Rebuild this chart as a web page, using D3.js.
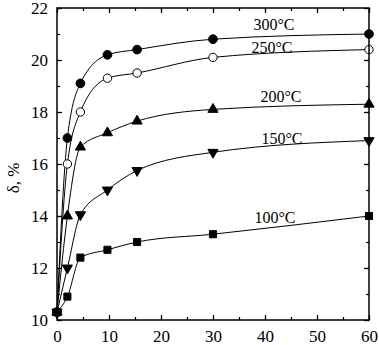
<!DOCTYPE html>
<html>
<head>
<meta charset="utf-8">
<script src="https://cdn.jsdelivr.net/npm/d3@7"></script>
<style>
  body { margin: 0; background: #fff; }
  text { font-family: "Liberation Serif", "DejaVu Serif", serif; }
</style>
</head>
<body>
<svg width="379" height="345"></svg>
<script>
// time, min
var times = [0, 2, 4.5, 9.7, 15.4, 30, 60];

// delta, % for each temperature
var t100 = [10.3, 10.9, 12.4, 12.7, 13.0, 13.3, 14.0];
var t150 = [10.3, 12.0, 14.05, 15.0, 15.75, 16.45, 16.9];
var t200 = [10.3, 14.0, 16.65, 17.2, 17.65, 18.1, 18.3];
var t250 = [10.3, 16.0, 18.0, 19.3, 19.5, 20.1, 20.4];
var t300 = [10.3, 17.0, 19.1, 20.2, 20.4, 20.8, 21.0];

var labels = ["100°C", "150°C", "200°C", "250°C", "300°C"];
var xTicks = [0, 10, 20, 30, 40, 50, 60];
var yTicks = [10, 12, 14, 16, 18, 20, 22];

var svg = d3.select("svg");

var x = d3.scaleLinear().domain([0, 60]).range([57, 369]);
var y = d3.scaleLinear().domain([10, 22]).range([320, 8]);

var series = [
  {vals: t100, sym: d3.symbolSquare, size: 50, fill: "#000", label: labels[0], lx: 275, ly: 223},
  {vals: t150, sym: d3.symbolTriangle, size: 45, fill: "#000", label: labels[1], lx: 282, ly: 144, down: true},
  {vals: t200, sym: d3.symbolTriangle, size: 45, fill: "#000", label: labels[2], lx: 281, ly: 102},
  {vals: t250, sym: d3.symbolCircle, size: 55, fill: "#fff", label: labels[3], lx: 272, ly: 53},
  {vals: t300, sym: d3.symbolCircle, size: 60, fill: "#000", label: labels[4], lx: 274, ly: 30}
];

// curves
var line = d3.line()
  .x(function(d, i){ return x(times[i]) })
  .y(function(d){ return y(d) })
  .curve(d3.curveMonotoneX);

svg.append("g")
  .selectAll("path")
  .data(series)
  .enter()
  .append("path")
    .attr("d", function(d){ return line(d.vals) })
    .attr("fill", "none")
    .attr("stroke", "#000")
    .attr("stroke-width", 1);

// markers
series.forEach(function(s){
  svg.append("g")
    .selectAll("path")
    .data(s.vals)
    .enter()
    .append("path")
      .attr("d", d3.symbol().type(s.sym).size(s.size))
      .attr("transform", function(d, i){
        return "translate(" + x(times[i]) + "," + y(d) + ")" + (s.down ? " rotate(180)" : "");
      })
      .attr("fill", s.fill)
      .attr("stroke", "#000")
      .attr("stroke-width", 1);

  svg.append("text")
    .attr("x", s.lx)
    .attr("y", s.ly)
    .attr("text-anchor", "middle")
    .attr("font-size", 16)
    .text(s.label);
});

// axes with inward ticks on all sides
function minor(ax, n) { return ax.ticks(n).tickSize(-3).tickFormat(""); }

svg.append("g").attr("transform", "translate(0,320)")
  .call(minor(d3.axisBottom(x), 12));
svg.append("g").attr("transform", "translate(0,320)")
  .call(d3.axisBottom(x).tickValues(xTicks).tickSize(-5).tickPadding(10));
svg.append("g").attr("transform", "translate(0,8)")
  .call(minor(d3.axisTop(x), 12));
svg.append("g").attr("transform", "translate(0,8)")
  .call(d3.axisTop(x).tickValues(xTicks).tickSize(-5).tickFormat(""));

svg.append("g").attr("transform", "translate(57,0)")
  .call(minor(d3.axisLeft(y), 12));
svg.append("g").attr("transform", "translate(57,0)")
  .call(d3.axisLeft(y).tickValues(yTicks).tickSize(-5).tickPadding(9));
svg.append("g").attr("transform", "translate(369,0)")
  .call(minor(d3.axisRight(y), 12));
svg.append("g").attr("transform", "translate(369,0)")
  .call(d3.axisRight(y).tickValues(yTicks).tickSize(-5).tickFormat(""));

svg.selectAll(".domain").remove();
svg.selectAll(".tick line").attr("stroke", "#000").attr("stroke-width", 1.2);
svg.selectAll(".tick text")
  .style("font-family", "'Liberation Serif', serif")
  .style("font-size", "17px")
  .attr("fill", "#000");

svg.append("rect")
  .attr("x", 57).attr("y", 8)
  .attr("width", 312).attr("height", 312)
  .attr("fill", "none")
  .attr("stroke", "#000")
  .attr("stroke-width", 1.5);

svg.append("text")
  .attr("transform", "translate(19,178) rotate(-90)")
  .attr("text-anchor", "middle")
  .attr("font-size", 17)
  .text("δ, %");
</script>
</body>
</html>
